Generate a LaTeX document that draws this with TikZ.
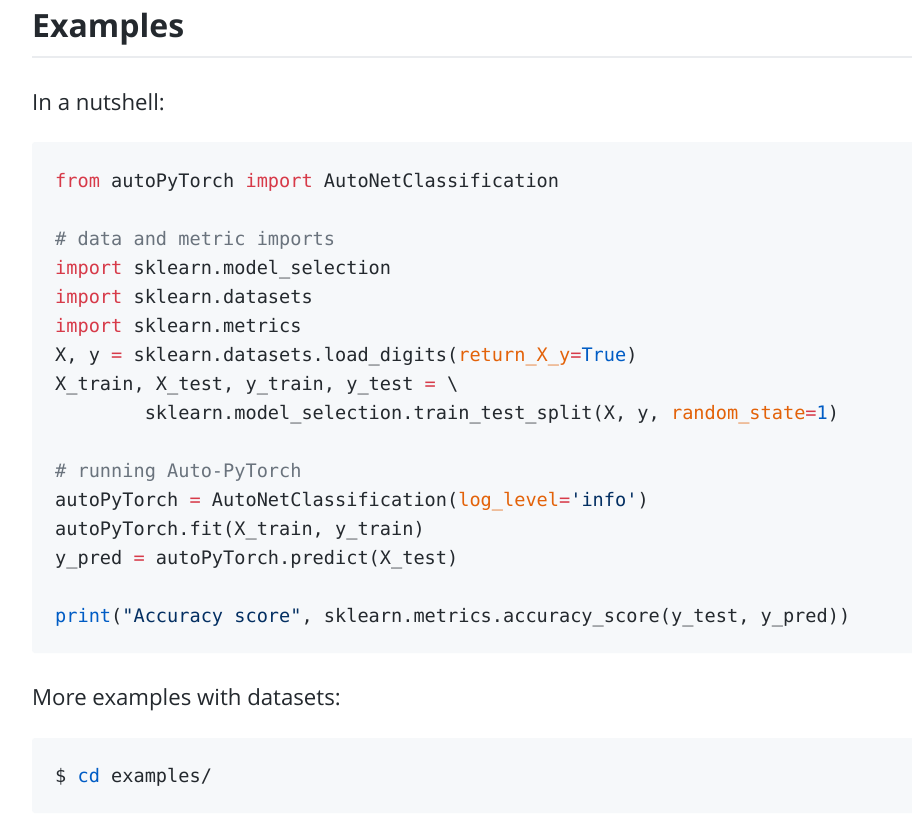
\documentclass[tikz,border=0pt]{standalone}
\usepackage{fontspec}
\setmainfont{Open Sans}
\setmonofont{DejaVu Sans Mono}
\definecolor{tx}{HTML}{24292E}
\definecolor{kwc}{HTML}{D73A49}
\definecolor{cmc}{HTML}{6A737D}
\definecolor{vrc}{HTML}{E36209}
\definecolor{cnc}{HTML}{005CC5}
\definecolor{stc}{HTML}{032F62}
\definecolor{codebg}{HTML}{F6F8FA}
\definecolor{rulec}{HTML}{EAECEF}
\newcommand{\kw}[1]{\textcolor{kwc}{#1}}
\newcommand{\cm}[1]{\textcolor{cmc}{#1}}
\newcommand{\vr}[1]{\textcolor{vrc}{#1}}
\newcommand{\cn}[1]{\textcolor{cnc}{#1}}
\newcommand{\st}[1]{\textcolor{stc}{#1}}
\begin{document}
\begin{tikzpicture}[x=1pt,y=-1pt,
  code/.style={anchor=base west,inner sep=0pt,text=tx,font=\ttfamily\fontsize{18.6}{22}\selectfont},
  body/.style={anchor=base west,inner sep=0pt,text=tx,font=\fontsize{22.2}{26}\selectfont},
  head/.style={anchor=base west,inner sep=0pt,text=tx,font=\bfseries\fontsize{32}{38}\selectfont}]
\useasboundingbox[fill=white] (0,0) rectangle (912,815);
% heading
\node[head] (h) at (32,37) {Examples};
\fill[rulec] (32,56.2) rectangle (912,57.8);
\node[body] (p1) at (32,110) {In a nutshell:};
% code block 1
\fill[codebg,rounded corners=3pt] (32,142) rectangle (920,653);
\node[code] (l1) at (55,187) {\kw{from} autoPyTorch \kw{import} AutoNetClassification};
\node[code] (l2) at (55,245) {\cm{\# data and metric imports}};
\node[code] (l3) at (55,274) {\kw{import} sklearn.model\_selection};
\node[code] (l4) at (55,303) {\kw{import} sklearn.datasets};
\node[code] (l5) at (55,332) {\kw{import} sklearn.metrics};
\node[code] (l6) at (55,361) {X, y \kw{=} sklearn.datasets.load\_digits(\vr{return\_X\_y}\kw{=}\cn{True})};
\node[code] (l7) at (55,390) {X\_train, X\_test, y\_train, y\_test \kw{=} \textbackslash};
\node[code] (l8) at (55,419) {\hphantom{00000000}sklearn.model\_selection.train\_test\_split(X, y, \vr{random\_state}\kw{=}\cn{1})};
\node[code] (l9) at (55,477) {\cm{\# running Auto-PyTorch}};
\node[code] (l10) at (55,506) {autoPyTorch \kw{=} AutoNetClassification(\vr{log\_level}\kw{=}\st{'info'})};
\node[code] (l11) at (55,535) {autoPyTorch.fit(X\_train, y\_train)};
\node[code] (l12) at (55,564) {y\_pred \kw{=} autoPyTorch.predict(X\_test)};
\node[code] (l13) at (55,622) {\cn{print}(\st{"Accuracy score"}, sklearn.metrics.accuracy\_score(y\_test, y\_pred))};
% text 2
\node[body] (p2) at (32,705) {More examples with datasets:};
% code block 2
\fill[codebg,rounded corners=3pt] (32,738) rectangle (920,813);
\node[code] (c1) at (55,782) {\$ \cn{cd} examples/};
\end{tikzpicture}
\end{document}
